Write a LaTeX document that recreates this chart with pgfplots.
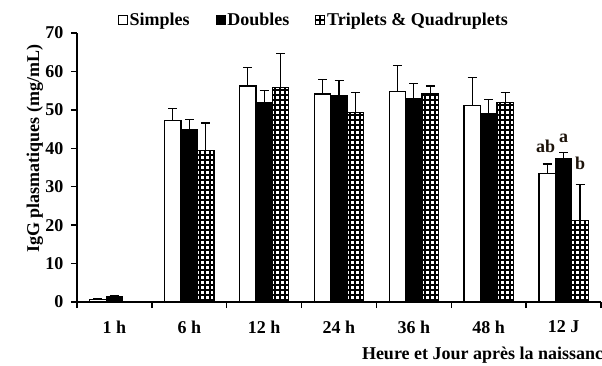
\documentclass[border=0pt]{standalone}
\usepackage{fontspec}
\setmainfont{Liberation Serif}
\usepackage{pgfplots}
\pgfplotsset{compat=1.18}
\usetikzlibrary{patterns}
\pgfdeclarepatternformonly{mygrid}{\pgfqpoint{-1pt}{-1pt}}{\pgfqpoint{6pt}{6pt}}{\pgfqpoint{5pt}{5pt}}{%
  \pgfsetlinewidth{1.1pt}%
  \pgfpathmoveto{\pgfqpoint{0pt}{-0.1pt}}\pgfpathlineto{\pgfqpoint{0pt}{5.1pt}}%
  \pgfpathmoveto{\pgfqpoint{-0.1pt}{0pt}}\pgfpathlineto{\pgfqpoint{5.1pt}{0pt}}%
  \pgfusepath{stroke}}
\newcommand{\bigb}{\bfseries\fontsize{18}{20}\selectfont}
\begin{document}
\begin{tikzpicture}
\begin{axis}[
  scale only axis, width=524pt, height=269pt,
  xmin=-0.5, xmax=6.5, ymin=0, ymax=70,
  axis x line=bottom, axis y line=left,
  axis line style={-, line width=1.6pt},
  ytick={0,10,...,70},
  xtick={0,...,6},
  xticklabels={1 h,6 h,12 h,24 h,36 h,48 h,12 J},
  minor xtick={-0.5,0.5,...,6.5},
  major x tick style={draw=none},
  minor x tick style={line width=1.3pt, black},
  minor tick length=6pt,
  major tick length=6pt,
  tick align=outside,
  y tick style={line width=1.3pt, black},
  /pgf/number format/assume math mode=true,
  ticklabel style={font=\bigb},
  xticklabel style={yshift=-9pt},
  yticklabel style={xshift=-4pt},
  xlabel={Heure et Jour après la naissanc},
  xlabel style={font=\bigb, at={(axis description cs:0.774,-0.199)}, anchor=center},
  ylabel={IgG plasmatiques (mg/mL)},
  ylabel style={font=\bigb, at={(axis description cs:-0.0802,0.569)}, anchor=center},
  ybar, bar width=0.22,
  legend style={at={(axis description cs:0.452,1.048)}, anchor=center, draw=none, fill=none,
    legend columns=3, font=\bigb,
    /tikz/every even column/.append style={column sep=24pt},
    legend cell align=left},
  legend image code/.code={\draw[#1, line width=0.8pt] (0pt,-4.5pt) rectangle (9pt,4.5pt);},
  error bars/y dir=plus, error bars/y explicit,
  error bars/error bar style={line width=1.2pt, black},
  error bars/error mark options={line width=1.2pt, mark size=4.5pt, black, rotate=90},
]
\addplot[bar shift=-0.22, draw=black, fill=white, line width=1.3pt] coordinates {
  (0,0.7) +- (0,0.3)
  (1,47.3) +- (0,3.1)
  (2,56.2) +- (0,4.9)
  (3,54.1) +- (0,3.9)
  (4,54.7) +- (0,6.8)
  (5,51.2) +- (0,7.2)
  (6,33.5) +- (0,2.4)
};
\addlegendentry{Simples}
\addplot[bar shift=0, draw=black, fill=black, line width=1.3pt] coordinates {
  (0,1.4) +- (0,0.2)
  (1,44.8) +- (0,2.7)
  (2,52.0) +- (0,3.1)
  (3,53.8) +- (0,3.8)
  (4,53.0) +- (0,3.8)
  (5,49.1) +- (0,3.5)
  (6,37.3) +- (0,1.7)
};
\addlegendentry{Doubles}
\addplot[bar shift=0.22, draw=black, pattern=mygrid, pattern color=black, line width=1.3pt] coordinates {
  (1,39.5) +- (0,7.1)
  (2,55.8) +- (0,8.9)
  (3,49.4) +- (0,5.2)
  (4,54.1) +- (0,2.1)
  (5,52.0) +- (0,2.6)
  (6,21.3) +- (0,9.3)
};
\addlegendentry{Triplets \& Quadruplets}
\node[font=\bigb, text=black!85!brown] at (axis cs:5.76,40.4) {ab};
\node[font=\bigb, text=black!85!brown] at (axis cs:6.0,42.5) {a};
\node[font=\bigb, text=black!85!brown] at (axis cs:6.22,36.0) {b};
\end{axis}
\pgfresetboundingbox
\useasboundingbox (-77pt,-63pt) rectangle (525pt,302pt);
\end{tikzpicture}
\end{document}
